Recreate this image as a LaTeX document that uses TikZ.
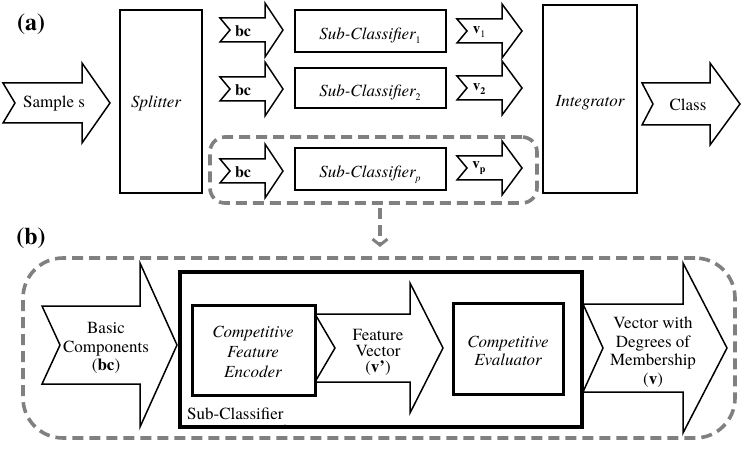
\documentclass[tikz,border=0pt]{standalone}
\usepackage{fontspec}
\setmainfont{TeX Gyre Termes}
\usetikzlibrary{arrows.meta}
\definecolor{dashgray}{RGB}{128,128,128}
\newcommand\fatarr[7]{%
  \draw[arrowline] (#1,#5-#6) -- (#3,#5-#6) -- (#3,#5-#7) -- (#4,#5) -- (#3,#5+#7) -- (#3,#5+#6) -- (#1,#5+#6) -- (#2,#5) -- cycle;}
\newcommand\sub[1]{\raisebox{-4pt}{\fontsize{10}{10}\selectfont #1}}
\tikzset{
  arrowline/.style={draw=black, line width=1.5pt, line join=miter, fill=white},
  txt/.style={inner sep=0pt, font=\fontsize{17}{18.5}\selectfont, align=center},
  itxt/.style={txt, font=\fontsize{17}{20}\selectfont\itshape},
  blockbox/.style={draw=black, line width=2.6pt, fill=white},
  dashbox/.style={draw=dashgray, line width=3.6pt, dash pattern=on 11pt off 6pt, inner sep=0pt, outer sep=0pt},
  dasharrow/.style={draw=dashgray, line width=3.6pt, dash pattern=on 11pt off 6pt, -{Straight Barb[length=6pt,width=15pt,line width=3pt]}},
  panellabel/.style={inner sep=0pt, font=\fontsize{24}{24}\selectfont\bfseries}
}
\begin{document}
\begin{tikzpicture}[x=1pt,y=-1pt]
\useasboundingbox (0,0) rectangle (746,454);
% ---------- panel (a) ----------
\node[panellabel] (lbla) at (31,24) {(a)};
\node[dashbox, rounded corners=15pt, minimum width=327pt, minimum height=66pt] (boxa) at (373.5,170) {};
% Sample s
\fatarr{3}{15}{82}{110}{103}{20}{40}
\node[txt] (samp) at (54,104) {Sample s};
% Splitter
\draw[blockbox] (120,10) rectangle (202,193);
\node[itxt] (split) at (156,103) {Splitter};
% bc arrows
\fatarr{220}{230}{265}{283}{30}{12}{27}
\fatarr{220}{230}{265}{283}{89}{12}{27}
\fatarr{220}{230}{265}{283}{171}{12}{27}
\node[txt, font=\fontsize{16}{16}\selectfont\bfseries] (bc1) at (243,31) {bc};
\node[txt, font=\fontsize{16}{16}\selectfont\bfseries] (bc2) at (243,90) {bc};
\node[txt, font=\fontsize{16}{16}\selectfont\bfseries] (bcp) at (243,172) {bc};
% sub-classifiers
\draw[blockbox] (295,10) rectangle (446,52);
\draw[blockbox] (295,68) rectangle (446,108);
\draw[blockbox] (295,148) rectangle (446,190);
\node[itxt, anchor=base] (sc1) at (370,40) {Sub-Classifier\sub{\upshape 1}};
\node[itxt, anchor=base] (sc2) at (370,97) {Sub-Classifier\sub{\upshape 2}};
\node[itxt, anchor=base] (scp) at (370,178) {Sub-Classifier\sub{p}};
% v arrows
\fatarr{457}{467}{502}{522}{31}{12}{27}
\fatarr{457}{467}{502}{522}{88}{12}{27}
\fatarr{457}{467}{502}{522}{168}{12}{27}
\node[txt, font=\fontsize{15}{15}\selectfont] (v1) at (479,32) {\textbf{v}\sub{1}};
\node[txt, font=\fontsize{15}{15}\selectfont] (v2) at (479,89) {\textbf{v}\sub{\textbf{2}}};
\node[txt, font=\fontsize{15}{15}\selectfont] (vp) at (479,168) {\textbf{v}\sub{\textbf{p}}};
% Integrator
\draw[blockbox] (543,5) rectangle (637,193);
\node[itxt] (integ) at (590,103) {Integrator};
% Class
\fatarr{642}{653}{710}{740}{104}{21}{41}
\node[txt] (cls) at (688,105) {Class};
% ---------- panel (b) ----------
\node[panellabel] (lblb) at (31,238) {(b)};
\node[dashbox, rounded corners=40pt, minimum width=712pt, minimum height=180pt] (boxb) at (379,348) {};
\draw[dasharrow, shorten <=5pt, shorten >=11pt] ([xshift=6.5pt]boxa.south) -- ([xshift=6.5pt]boxa.south |- boxb.north);
% Basic components
\fatarr{42}{60}{140}{177}{345}{39}{82}
\node[txt] (basic) at (106,348) {Basic\\Components\\(\textbf{bc})};
% Sub-classifier big box
\draw[blockbox, line width=3.2pt] (180,272) rectangle (582,427);
\node[txt, anchor=base west] (sclabel) at (187,419) {Sub-Classifier\raisebox{-6pt}{\fontsize{6}{6}\selectfont ..}};
% Feature vector arrow
\fatarr{315}{335}{410}{443}{348}{34}{65}
\node[txt, font=\fontsize{17}{16}\selectfont] (fv) at (378,352) {Feature\\Vector\\(\textbf{v’})};
% Encoder
\draw[blockbox, line width=3pt] (192,305) rectangle (315,395);
\node[itxt] (enc) at (253,352) {Competitive\\Feature\\Encoder};
% Evaluator
\draw[blockbox, line width=3pt] (453,303) rectangle (563,394);
\node[itxt, font=\fontsize{17}{18.5}\selectfont\itshape] (eval) at (508,351) {Competitive\\Evaluator};
% Output arrow
\fatarr{583}{603}{683}{727}{348}{44}{85}
\node[txt] (out) at (653,352) {Vector with\\Degrees of\\Membership\\(\textbf{v})};
\end{tikzpicture}
\end{document}
